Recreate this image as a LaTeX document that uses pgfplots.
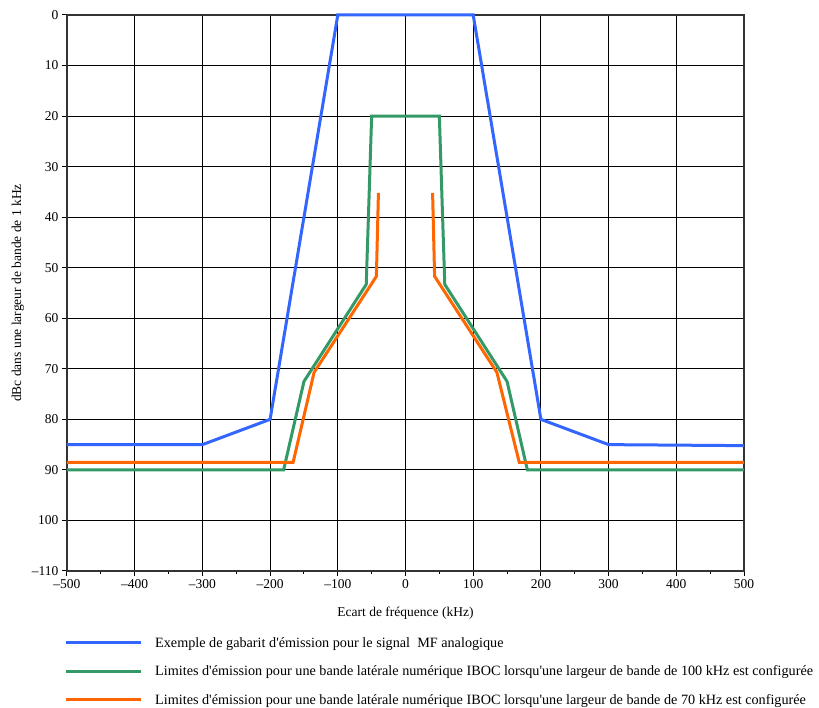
\documentclass[border=0pt]{standalone}
\usepackage{fontspec}
\setmainfont{Liberation Serif}
\usepackage{pgfplots}
\pgfplotsset{compat=1.18}
\definecolor{cblue}{RGB}{51,102,255}
\definecolor{cgreen}{RGB}{51,153,102}
\definecolor{corange}{RGB}{255,102,0}
\begin{document}
\begin{tikzpicture}[font=\fontsize{13.5}{16}\selectfont]
\begin{axis}[name=ax, scale only axis, width=677pt, height=556pt,
  xmin=-500, xmax=500, ymin=-110, ymax=0,
  clip=false,
  xtick={-500,-400,...,500},
  xticklabels={–500,–400,–300,–200,–100,0,100,200,300,400,500},
  minor x tick num=1,
  ytick={-110,-100,...,0},
  yticklabels={–110,100,90,80,70,60,50,40,30,20,10,0},
  xtick pos=bottom, ytick pos=left,
  grid=major, major grid style={black, line width=1pt},
  axis line style={black!80, line width=1.2pt},
  tick style={black, line width=1pt}, tick align=outside,
  major tick length=5pt, minor tick length=3pt,
  xlabel={Ecart de fréquence (kHz)},
  ylabel={dBc dans une largeur de bande de 1 kHz},
  xlabel style={at={(axis description cs:0.5,-0.0755)}, anchor=center},
  ylabel style={at={(axis description cs:-0.0724,0.5)}, anchor=center},
  legend style={at={(axis description cs:0,0)}, anchor=north west, xshift=-3pt, yshift=-65pt,
    draw=none, fill=none, inner sep=0pt, row sep=15pt,
    font=\fontsize{14.2}{16}\selectfont,
    nodes={inner sep=1pt},
    /tikz/every odd column/.append style={column sep=12pt}},
  legend cell align=left,
  legend image code/.code={\draw[#1] (0pt,0pt) -- (75pt,0pt);},
  every axis plot/.append style={line width=3pt},
]
\addplot[cblue] coordinates {(-500,-85) (-300,-85) (-200,-80) (-100,0) (100,0) (200,-80) (300,-85) (500,-85.2)};
\addlegendentry{Exemple de gabarit d\textquotesingle émission pour le signal\ \ MF analogique}
\addplot[cgreen] coordinates {(-500,-90) (-180,-90) (-150,-72.5) (-58,-53.3) (-50,-20) (50,-20) (58,-53.3) (150,-72.5) (180,-90) (500,-90)};
\addlegendentry{Limites d\textquotesingle émission pour une bande latérale numérique IBOC lorsqu\textquotesingle une largeur de bande de 100 kHz est configurée}
\addplot[corange] coordinates {(-500,-88.5) (-166,-88.5) (-135,-70.7) (-43,-51.7) (-40,-35.2)};
\addlegendentry{Limites d\textquotesingle émission pour une bande latérale numérique IBOC lorsqu\textquotesingle une largeur de bande de 70 kHz est configurée}
\addplot[corange, forget plot] coordinates {(40,-35.2) (43,-51.7) (135,-70.7) (168,-88.5) (500,-88.5)};
\end{axis}
\pgfresetboundingbox
\path ([shift={(-67pt,-137pt)}]ax.south west) rectangle ++(819pt,708pt);
\end{tikzpicture}
\end{document}
